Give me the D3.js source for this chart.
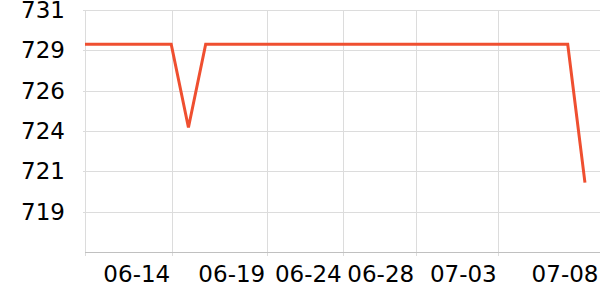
<!DOCTYPE html>
<html>
<head>
<meta charset="utf-8">
<script src="https://cdn.jsdelivr.net/npm/d3@7"></script>
<style>
  body { margin: 0; background: #fff; }
  svg { display: block; font-family: "DejaVu Sans", sans-serif; }
</style>
</head>
<body>
<svg id="chart" width="600" height="300"></svg>
<script>
// values, one per trading day
var values = [728.88, 728.88, 728.88, 728.88, 728.88, 728.88, 723.72, 728.88, 728.88, 728.88,
              728.88, 728.88, 728.88, 728.88, 728.88, 728.88, 728.88, 728.88, 728.88, 728.88,
              728.88, 728.88, 728.88, 728.88, 728.88, 728.88, 728.88, 728.88, 728.88, 720.3];
// x tick labels and where they sit (in point index units)
var xTickLabels = ["06-14", "06-19", "06-24", "06-28", "07-03", "07-08"];
var xTickIndex = [5.03, 10.54, 14.98, 19.18, 23.97, 29.87];
// y axis
var yMin = 716, yMax = 731, yStep = 2.5;

var svg = d3.select("#chart"),
    mLeft = 85, mRight = 600, mTop = 10, mBottom = 252;

var x = d3.scaleLinear()
    .domain([0, values.length - 1])
    .range([mLeft, mLeft + (values.length - 1) * 17.24]);

var y = d3.scaleLinear()
    .domain([yMin, yMax])
    .range([mBottom, mTop]);

var yTicks = d3.range(yMax, yMin, -yStep);

// horizontal grid
svg.append("g")
  .selectAll("line")
  .data(yTicks)
  .enter()
  .append("line")
    .attr("x1", mLeft - 2)
    .attr("x2", mRight)
    .attr("y1", function(d){ return Math.round(y(d)) + 0.5 })
    .attr("y2", function(d){ return Math.round(y(d)) + 0.5 })
    .attr("stroke", "#dcdcdc")
    .attr("stroke-width", 1)

// vertical grid
svg.append("g")
  .selectAll("line")
  .data(xTickIndex)
  .enter()
  .append("line")
    .attr("x1", function(d){ return Math.round(x(d)) + 0.5 })
    .attr("x2", function(d){ return Math.round(x(d)) + 0.5 })
    .attr("y1", mTop)
    .attr("y2", mBottom + 4)
    .attr("stroke", "#dcdcdc")
    .attr("stroke-width", 1)

// left axis line
svg.append("line")
    .attr("x1", mLeft + 0.5).attr("x2", mLeft + 0.5)
    .attr("y1", mTop).attr("y2", mBottom + 4)
    .attr("stroke", "#dcdcdc")

// bottom axis line
svg.append("line")
    .attr("x1", mLeft).attr("x2", mRight)
    .attr("y1", mBottom + 0.5).attr("y2", mBottom + 0.5)
    .attr("stroke", "#c0c0c0")

// y labels
var yAxis = d3.axisLeft(y)
    .tickValues(yTicks)
    .tickFormat(d3.format(".0f"))
    .tickSize(0)
    .tickPadding(20);

svg.append("g")
    .attr("transform", "translate(" + mLeft + ",0)")
    .call(yAxis)
    .call(function(g){ g.select(".domain").remove() })
    .selectAll("text")
      .attr("font-family", "DejaVu Sans, sans-serif")
      .attr("font-size", 23)
      .attr("fill", "#000")

// x labels
var xAxis = d3.axisBottom(x)
    .tickValues(xTickIndex)
    .tickFormat(function(d, i){ return xTickLabels[i] })
    .tickSize(0)
    .tickPadding(14);

svg.append("g")
    .attr("transform", "translate(0," + mBottom + ")")
    .call(xAxis)
    .call(function(g){ g.select(".domain").remove() })
    .selectAll("text")
      .attr("font-family", "DejaVu Sans, sans-serif")
      .attr("font-size", 23)
      .attr("fill", "#000")
      .attr("text-anchor", "end")
      .attr("dx", "-2")

// the line
var line = d3.line()
    .x(function(d, i){ return x(i) })
    .y(function(d){ return y(d) });

svg.append("path")
    .datum(values)
    .attr("fill", "none")
    .attr("stroke", "#ef4f30")
    .attr("stroke-width", 3)
    .attr("stroke-linejoin", "miter")
    .attr("d", line)
</script>
</body>
</html>
